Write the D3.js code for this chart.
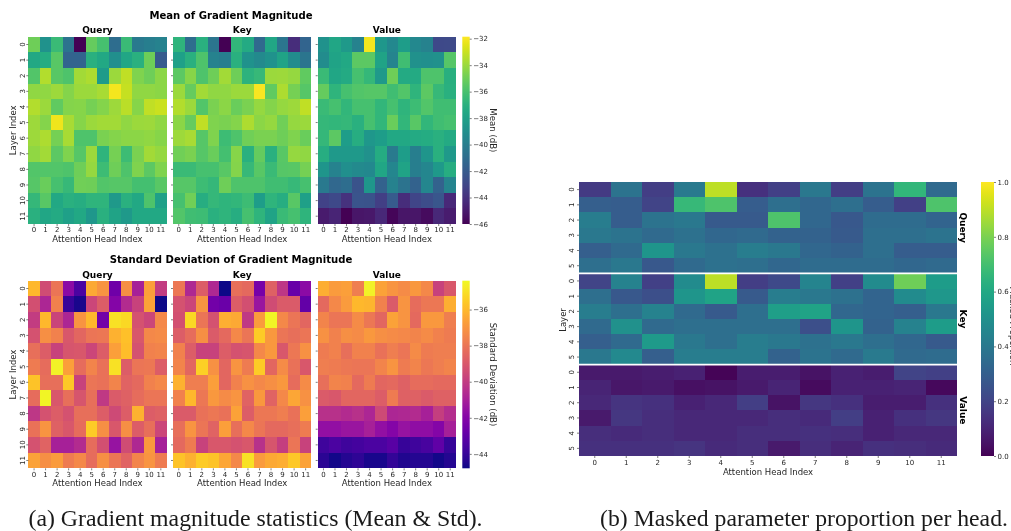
<!DOCTYPE html>
<html><head><meta charset="utf-8">
<script src="https://cdn.jsdelivr.net/npm/d3@7/dist/d3.min.js"></script>
<style>html,body{margin:0;padding:0;background:#fff;overflow:hidden}svg{display:block;filter:blur(.35px)}
text{font-family:"DejaVu Sans",sans-serif;fill:#262626}</style></head><body>
<svg id="c" width="1011" height="531"></svg>
<script>
const heads=d3.range(12);
const layers12=d3.range(12);
const layers6=d3.range(6);
const panelNames=["Query","Key","Value"];
const meanQuery=[
[-35,-38.8,-36.4,-40.6,-46,-35.2,-36,-41,-36.4,-40.3,-40,-39.7],
[-37.5,-37.3,-35.5,-41.5,-41.5,-37,-37.5,-39,-37.6,-37,-35,-42],
[-35.7,-33.5,-35.5,-35.8,-33.8,-33.6,-38.3,-34,-33.2,-34.6,-35,-34.3],
[-34.2,-34.2,-33.9,-34.5,-34,-34,-33.7,-32.1,-33.1,-34.2,-34.2,-34.3],
[-33.5,-34,-35.3,-34.5,-34.4,-34.8,-34.5,-33.9,-33.3,-34.4,-33.2,-33],
[-33.9,-34.5,-32.2,-33.7,-34.4,-34,-33.8,-33.8,-34.2,-34,-33.9,-34.2],
[-33.9,-33.6,-34.8,-33.7,-35.8,-35.8,-34.7,-34.5,-34.3,-34.3,-34.2,-34.4],
[-34.2,-33.8,-35.4,-34.6,-35.6,-34,-36.8,-34.8,-36.3,-34.7,-33.8,-34.1],
[-35.7,-35.7,-35.7,-35.8,-35,-34.1,-36.3,-35,-35.8,-34.6,-35.4,-34.6],
[-35.6,-35.1,-36,-36.5,-34.9,-35,-35.7,-35.6,-35.6,-36.1,-36.1,-35.5],
[-36.6,-35.5,-37.5,-37,-37.2,-36.8,-36.8,-38.4,-37,-37.5,-35.8,-38],
[-37,-37.6,-37.4,-38,-37.5,-38.5,-37,-37.8,-38.4,-37.5,-37.5,-37.5]];
const meanKey=[
[-36.8,-41,-37,-40.5,-46,-36.7,-37.4,-41.2,-37.6,-40.5,-44.2,-41.5],
[-38,-37,-35.8,-39.8,-40,-37,-38.8,-39.3,-38.8,-37.8,-39.2,-40.5],
[-35.4,-34.4,-35.8,-35,-33.8,-35,-36.9,-36.5,-34,-33.9,-34.1,-35.3],
[-34,-35.2,-33.8,-34.2,-34.2,-34,-34,-32,-35.3,-33.6,-34.8,-35.6],
[-33.5,-34,-35.7,-34.7,-34.3,-35.1,-34.7,-34.1,-34.5,-34.1,-33.9,-33.2],
[-34.3,-35.2,-33.2,-34.6,-34.7,-34.5,-33.6,-34.3,-34.1,-34.9,-34.1,-34],
[-33.9,-33.7,-35.6,-34.6,-36.3,-35.8,-34.9,-34.7,-34.7,-35,-34.6,-35.1],
[-34.9,-34.7,-35.6,-35.1,-36.1,-34.4,-37,-35.2,-37,-35.5,-34.1,-34.2],
[-36.4,-36.4,-36,-36,-35.5,-34.5,-36.5,-35.5,-36.4,-35.6,-35.5,-34.8],
[-35.6,-35.6,-36.3,-36.6,-35,-35.8,-35.8,-35.8,-36.2,-36.2,-36.5,-36],
[-36,-34.9,-37.2,-36.6,-36.8,-36.7,-36.3,-38.2,-36.8,-37.2,-35.5,-38],
[-35.7,-36.2,-36.3,-37,-36.8,-37.2,-36,-36.8,-37.8,-36.4,-36,-36.8]];
const meanValue=[
[-38.8,-37.6,-38.4,-39.8,-32.1,-38.5,-39.4,-38.2,-39.4,-39.7,-42.9,-42.8],
[-39.2,-37.8,-37.5,-35.4,-35.4,-37.8,-39.6,-36.2,-38.9,-39,-38.9,-35.6],
[-36.4,-37.6,-37.4,-36,-36.6,-38.4,-35,-37.4,-37.4,-35.8,-35.8,-37.1],
[-35.2,-36.8,-36,-35.7,-35.6,-35.6,-36.2,-35.7,-36.8,-35.4,-36.5,-37],
[-36.4,-36,-36.7,-36,-36,-36.7,-36,-36.8,-36.3,-35.7,-36.2,-36.2],
[-36.6,-36.7,-36.6,-37,-36,-36.7,-35.1,-36.7,-35.5,-36.7,-36.2,-36],
[-36.6,-35.4,-38.2,-37.2,-38.5,-38.2,-37.5,-37.5,-37.4,-37.3,-37,-37.4],
[-37.2,-38.4,-38.4,-38.4,-38.9,-37.3,-40.2,-38.2,-40,-38.6,-37,-38.4],
[-38.6,-39.8,-39,-39.3,-39.4,-37.6,-39.5,-37.8,-40,-39.5,-38.4,-37.2],
[-40.3,-41.3,-41,-42.4,-38.5,-41.6,-39.8,-40.6,-41.6,-39.5,-41.6,-39.6],
[-43.2,-42.9,-44,-42.3,-42.4,-43.4,-42,-44.2,-43.1,-42.7,-42.2,-44.4],
[-45,-44.6,-46,-45.2,-45.1,-44.4,-45.8,-45.2,-45.2,-45.6,-44.4,-44.9]];
const stdQuery=[
[-36,-39.4,-38,-41.8,-43.5,-36.4,-37,-42.6,-37.2,-41,-36.7,-40],
[-39.3,-40.8,-37.6,-44,-44.6,-39.6,-38.8,-42,-40.6,-39.8,-36.6,-44.8],
[-40,-36,-39.7,-40.8,-37,-36,-42.5,-35,-35.2,-39.2,-39.6,-37.4],
[-39.2,-37.2,-37.6,-39,-38.5,-38,-37.9,-36.2,-35.8,-39,-37.4,-37.3],
[-38.2,-38.8,-39.8,-39.1,-39,-39.6,-38.8,-36.7,-35.9,-39.2,-37.6,-37.5],
[-37.8,-38.3,-34.6,-36.7,-38.3,-37.5,-38.1,-35,-38.8,-38,-37.9,-38.8],
[-35.7,-38.2,-38.2,-35.6,-39.8,-38,-38.1,-37.5,-38.6,-38.4,-37.6,-37.4],
[-38.3,-34.5,-39,-38.2,-39.1,-38.2,-40.1,-38.9,-38.7,-38.3,-38,-38],
[-40.2,-39.2,-38.8,-39.2,-38.2,-38.2,-38.8,-39.5,-38.8,-36.2,-38.8,-38.7],
[-38.1,-37,-38.7,-39,-38.3,-35.5,-37.2,-39,-37.2,-38.8,-38.2,-39.6],
[-39.2,-38.6,-41,-41,-40.6,-38.3,-39.3,-41.5,-39.4,-40.7,-36.9,-41],
[-36.6,-37.2,-36.8,-37.8,-37.4,-38.3,-37.2,-38,-38.6,-37.5,-37,-37.8]];
const stdKey=[
[-37.9,-40.7,-38.8,-40.7,-44.8,-38.2,-38.4,-42.4,-38.7,-40.2,-42.8,-41.8],
[-39.2,-39.6,-37,-42.5,-42.7,-38.8,-39.3,-41.4,-39.4,-38.9,-38.9,-42.9],
[-39.3,-35.2,-38,-39.2,-36.3,-36.4,-40.1,-36.8,-34.5,-37.4,-38,-38.5],
[-38.8,-38.3,-37.2,-38.9,-38.4,-37.4,-38,-35.5,-36.9,-38,-38.2,-38],
[-37.6,-38.8,-39.8,-39.8,-38.8,-39.2,-39.1,-37.4,-36.9,-39,-37.9,-37.1],
[-37.5,-38.5,-35.4,-37.1,-38.5,-37,-37.8,-35.5,-38.5,-37.3,-38.1,-39],
[-36.2,-37.7,-37.7,-36.7,-38.5,-37.6,-37.1,-37.4,-37.2,-36.9,-38.3,-37.3],
[-37.6,-36,-37.9,-36.9,-37.3,-37,-38.6,-36.9,-38.6,-37.4,-36.5,-37.1],
[-38.9,-38.9,-38.1,-37.9,-38.1,-36.6,-38.8,-37.9,-37.9,-37.7,-38.1,-36.7],
[-38.2,-37,-38,-38.6,-36.7,-38.2,-37.4,-38,-38.4,-38.4,-38.2,-37.8],
[-38.4,-37.8,-39.8,-39,-39,-39.2,-39,-40.4,-39.1,-39.9,-38,-39.8],
[-35.7,-36.2,-35.5,-35.7,-36.5,-37.4,-35,-36.8,-36.4,-36.3,-35.6,-36.6]];
const stdValue=[
[-36.3,-36.8,-36.7,-37.7,-34.6,-36.6,-37,-37.3,-36.9,-37.4,-39.8,-39],
[-38.4,-37.4,-36.8,-36,-36.1,-37.6,-38.9,-37,-38.3,-37.9,-37.9,-36.3],
[-37.5,-38,-38,-37.3,-37.9,-38.5,-36.6,-37,-38.4,-36.9,-36.9,-37.7],
[-37.1,-37.6,-37.2,-37.3,-36.9,-37.2,-37.3,-37.4,-37.5,-37.3,-37.6,-37.8],
[-37.8,-37.6,-38.2,-37.6,-37.6,-38.1,-37.7,-38,-37.3,-37.8,-37.7,-37.7],
[-37.7,-37.8,-37.9,-38,-38,-37.5,-37,-37.8,-37.5,-37.9,-37.7,-37.5],
[-38.2,-37.5,-37.6,-38.4,-37.8,-38.5,-38.4,-38.7,-38.3,-38.3,-38.4,-38.4],
[-38.9,-39,-38.5,-38.5,-38.5,-38.8,-37.8,-38.7,-38.7,-38.9,-38.7,-38.7],
[-40.4,-40.4,-40.6,-40.4,-40.8,-39.5,-40.8,-40.7,-40.6,-41,-39.9,-40.5],
[-41.6,-41.6,-41.4,-41.4,-41,-41.6,-42,-41.5,-41.7,-41.7,-42,-41],
[-43.8,-43.5,-43.8,-43.7,-43.5,-43.5,-43.2,-44,-43.8,-43.6,-43,-44],
[-44.3,-44.7,-44.4,-44.2,-44.6,-44.6,-44.1,-44.5,-44.4,-44.4,-44.7,-44.4]];
const maskQuery=[
[.17,.38,.18,.41,.90,.14,.19,.40,.18,.38,.66,.34],
[.30,.29,.20,.67,.72,.29,.36,.33,.36,.29,.19,.72],
[.42,.29,.38,.40,.28,.28,.72,.33,.27,.35,.35,.32],
[.40,.38,.34,.37,.33,.34,.31,.31,.28,.36,.36,.38],
[.30,.34,.52,.40,.37,.42,.40,.33,.31,.36,.29,.29],
[.36,.40,.27,.34,.37,.36,.33,.35,.35,.35,.33,.34]];
const maskKey=[
[.20,.44,.19,.48,.90,.18,.22,.45,.19,.48,.78,.55],
[.36,.27,.24,.52,.58,.28,.42,.40,.37,.32,.48,.53],
[.42,.36,.44,.34,.28,.36,.56,.58,.33,.32,.30,.40],
[.34,.50,.34,.36,.36,.36,.36,.24,.52,.31,.44,.55],
[.30,.34,.54,.40,.36,.42,.40,.37,.40,.36,.33,.28],
[.40,.47,.30,.42,.42,.42,.31,.38,.34,.41,.34,.35]];
const maskValue=[
[.07,.07,.08,.09,.01,.08,.08,.05,.09,.08,.20,.19],
[.10,.06,.07,.04,.05,.07,.10,.03,.09,.09,.10,.02],
[.11,.15,.14,.09,.11,.18,.05,.16,.14,.08,.08,.14],
[.07,.16,.13,.11,.11,.11,.13,.12,.18,.09,.14,.16],
[.13,.12,.13,.11,.11,.13,.13,.14,.13,.09,.11,.11],
[.14,.14,.14,.15,.12,.13,.07,.13,.10,.14,.13,.12]];
const meanTicks=[-32,-34,-36,-38,-40,-42,-44,-46];
const stdTicks=[-36,-38,-40,-42,-44];
const maskTicks=[0,.2,.4,.6,.8,1];

const svg=d3.select("#c");
const INK="#262626";
function label(x,y,t,o={}){
  const s=svg.append("text").attr("text-anchor",o.anchor||"middle")
    .attr("transform",`translate(${x},${y})`+(o.rot?` rotate(${o.rot})`:""))
    .attr("font-size",o.size||8).text(t);
  if(o.bold)s.attr("font-weight","bold").style("fill","#000");
  if(o.family)s.style("font-family",o.family).style("fill","#1a1a1a");
  return s;
}
function styleAxis(g,size){
  g.select(".domain").remove();
  g.selectAll("line").attr("stroke",INK).attr("stroke-width",.6);
  g.selectAll("text").attr("font-size",size).style("fill",INK).attr("font-family",null);
}
function heat(values,rowDomain,colour,x0,x1,y0,y1){
  const x=d3.scaleBand().domain(heads).range([x0,x1]);
  const y=d3.scaleBand().domain(rowDomain).range([y0,y1]);
  svg.append("g").attr("shape-rendering","crispEdges").selectAll("g").data(values).join("g").selectAll("rect")
    .data((row,i)=>row.map((v,j)=>({v,i,j}))).join("rect")
    .attr("x",d=>x(d.j)).attr("y",d=>y(d.i))
    .attr("width",x.bandwidth()).attr("height",y.bandwidth())
    .attr("fill",d=>colour(d.v));
  return {x,y};
}
function bottomAxis(x,yPos,size,pad){
  const g=svg.append("g").attr("transform",`translate(0,${yPos})`)
    .call(d3.axisBottom(x).tickSize(2).tickPadding(pad));
  styleAxis(g,size);
}
function leftAxis(y,xPos,showLabels,size,base){
  const g=svg.append("g").attr("transform",`translate(${xPos},0)`)
    .call(d3.axisLeft(y).tickSize(2).tickFormat(showLabels?null:""));
  styleAxis(g,size);
  g.selectAll("text").attr("text-anchor","middle").attr("dy",null).attr("x",null).attr("y",null)
     .attr("transform",`translate(${base},0) rotate(-90)`);
}
function colourbar(interp,scale,ticks,x0,x1,y0,y1,id,size){
  const grad=svg.append("defs").append("linearGradient").attr("id",id)
    .attr("x1",0).attr("x2",0).attr("y1",1).attr("y2",0);
  d3.range(0,1.0001,.04).forEach(t=>grad.append("stop").attr("offset",t).attr("stop-color",interp(t)));
  svg.append("rect").attr("x",x0).attr("y",y0).attr("width",x1-x0).attr("height",y1-y0).attr("fill",`url(#${id})`);
  const fmt=v=>v<0?"\u2212"+Math.abs(v):d3.format(".1f")(v);
  const g=svg.append("g").attr("transform",`translate(${x1},0)`)
    .call(d3.axisRight(scale).tickValues(ticks).tickSize(2).tickPadding(1.5).tickFormat(fmt));
  styleAxis(g,size);
}

const xSpans=[[28.3,166.6],[173,311.4],[317.7,456]];
function block(top,bottom,mats,interp,domain,ticks,title,titleY,subY,cbLabel,id){
  const colour=d3.scaleSequential(interp).domain(domain);
  label(231,titleY,title,{bold:true,size:10.1});
  mats.forEach((m,k)=>{
    const [a,b]=xSpans[k];
    const {x,y}=heat(m,layers12,colour,a,b,top,bottom);
    bottomAxis(x,bottom,7,1.5);
    leftAxis(y,a,k===0,7,-3.6);
    label((a+b)/2,subY,panelNames[k],{bold:true,size:9});
    label((a+b)/2,bottom+18,"Attention Head Index",{size:8.5});
  });
  label(16,(top+bottom)/2,"Layer Index",{rot:-90,size:8.5});
  const s=d3.scaleLinear().domain(domain).range([bottom,top]);
  colourbar(interp,s,ticks,462.3,469.7,top,bottom,id,7);
  label(490,(top+bottom)/2,cbLabel,{rot:90,size:8.6});
}
block(280.7,468.3,[stdQuery,stdKey,stdValue],d3.interpolatePlasma,[-44.8,-34.4],stdTicks,
  "Standard Deviation of Gradient Magnitude",263,277.6,"Standard Deviation (dB)","gStd");
block(36.7,224,[meanQuery,meanKey,meanValue],d3.interpolateViridis,[-46,-31.85],meanTicks,
  "Mean of Gradient Magnitude",19,33,"Mean (dB)","gMean");

const RX=[579,957],RY=[182,456];
const rh=(RY[1]-RY[0])/18;
const maskColour=d3.scaleSequential(d3.interpolateViridis).domain([0,1]);
[maskQuery,maskKey,maskValue].forEach((m,k)=>{
  const top=RY[0]+k*6*rh,bot=top+6*rh;
  const {x,y}=heat(m,layers6,maskColour,RX[0],RX[1],top,bot);
  leftAxis(y,RX[0],true,7,-4.6);
  if(k===2)bottomAxis(x,bot,7,2.5);
  label(960,(top+bot)/2,panelNames[k],{rot:90,bold:true,size:9});
});
[1,2].forEach(k=>{
  svg.append("line").attr("x1",RX[0]).attr("x2",RX[1]+2)
    .attr("y1",RY[0]+k*6*rh).attr("y2",RY[0]+k*6*rh).attr("stroke","#fff").attr("stroke-width",1.6);
});
label(566,320,"Layer",{rot:-90,size:8.5});
label(768,475,"Attention Head Index",{size:8.5});
colourbar(d3.interpolateViridis,d3.scaleLinear().domain([0,1]).range([RY[1],RY[0]]),maskTicks,981,994,RY[0],RY[1],"gMask",7);
label(1009.5,326,"Masked Proportion",{rot:90,size:8.5});

label(255.5,525.6,"(a) Gradient magnitude statistics (Mean & Std).",{size:23.8,family:'"Liberation Serif",serif'});
label(804,525.6,"(b) Masked parameter proportion per head.",{size:23.7,family:'"Liberation Serif",serif'});
</script></body></html>
